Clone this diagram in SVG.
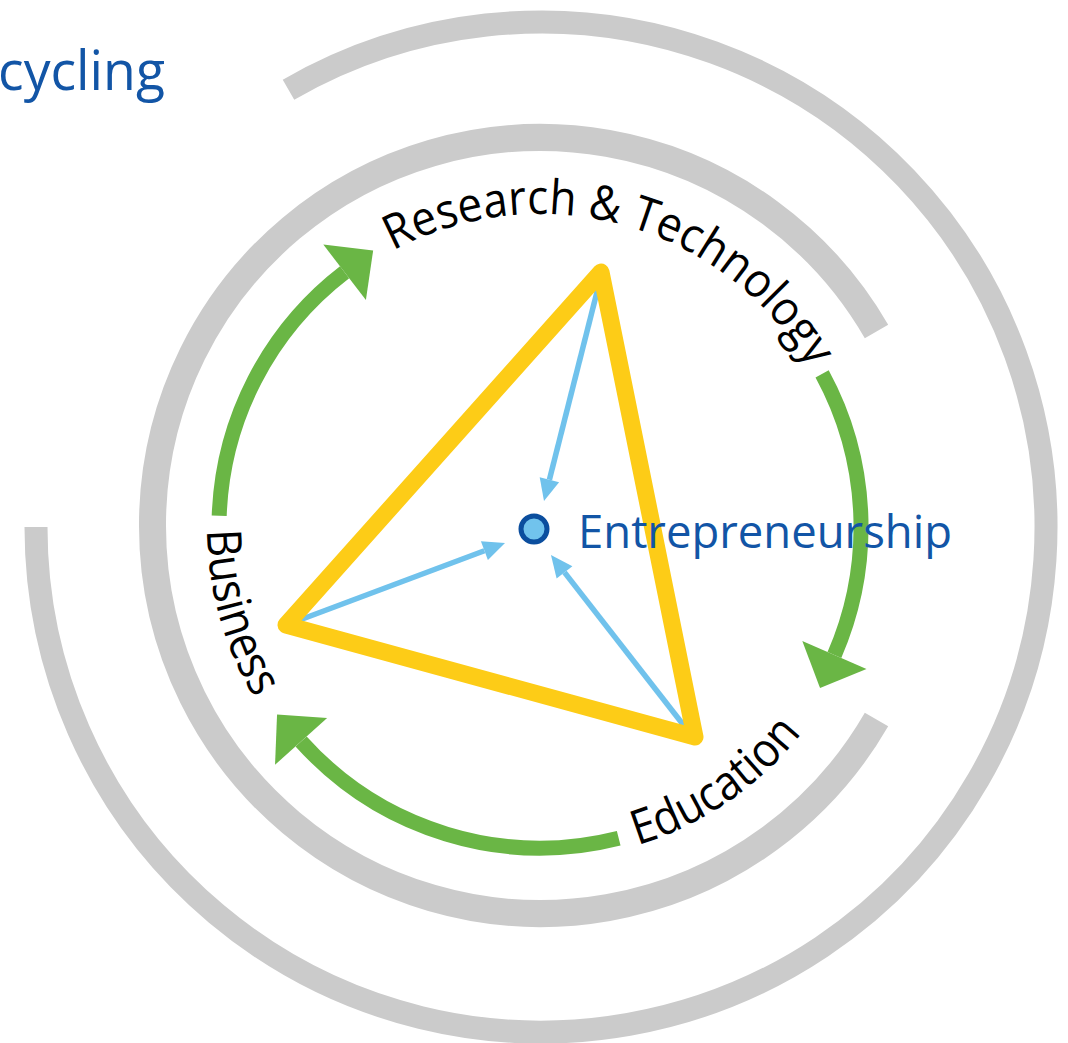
<svg xmlns="http://www.w3.org/2000/svg" width="1068" height="1043" viewBox="0 0 1068 1043">
  <style>
    .gray { fill: none; stroke: #cbcbcb; }
    .green { fill: none; stroke: #6ab645; stroke-width: 15; }
    .blue { fill: none; stroke: #70c2ec; stroke-width: 5.5; }
    .label { font-family: "Open Sans", "Noto Sans", "Liberation Sans", sans-serif; font-size: 48px; fill: #000; }
    .title { font-family: "Open Sans", "Noto Sans", "Liberation Sans", sans-serif; fill: #1255a6; }
  </style>
  <defs>
    <marker id="greenHead" markerUnits="userSpaceOnUse" markerWidth="40" markerHeight="74" viewBox="0 -37 40 74" refX="0" refY="0" orient="auto" overflow="visible">
      <path d="M0,-35 L36,0 L0,35 Z" fill="#6ab645"/>
    </marker>
    <marker id="blueHead" markerUnits="userSpaceOnUse" markerWidth="24" markerHeight="22" viewBox="0 -11 24 22" refX="0" refY="0" orient="auto" overflow="visible">
      <path d="M0,-10 L22,0 L0,10 Z" fill="#70c2ec"/>
    </marker>
    <path id="pTop" d="M393,250.6 A313,313 0 0 1 834.1,419.9"/>
    <path id="pLeft" d="M207,530 A333,333 0 0 0 284.9,741"/>
    <path id="pBottom" d="M637.4,845.4 A333,333 0 0 0 828.4,693.5"/>
  </defs>

  <text class="title" x="-2" y="90" font-size="55" textLength="167" lengthAdjust="spacingAndGlyphs">cycling</text>

  <g id="rings">
    <path class="gray" stroke-width="23" d="M288.5,89.7 A505,505 0 1 1 36,527"/>
    <path class="gray" stroke-width="27" d="M876.5,719.5 A388,388 0 1 1 876.5,331.5"/>
  </g>

  <g id="connectors">
    <path class="green" marker-end="url(#greenHead)" d="M219.2,515.8 A321,321 0 0 1 344.6,272.3"/>
    <path class="green" marker-end="url(#greenHead)" d="M822.1,373.8 A321,321 0 0 1 834.4,655"/>
    <path class="green" marker-end="url(#greenHead)" d="M618.7,838.2 A321,321 0 0 1 301.1,741.4"/>
    <path class="blue" marker-end="url(#blueHead)" d="M598,288 L549.4,479.7"/>
    <path class="blue" marker-end="url(#blueHead)" d="M297,621 L484.4,550.7"/>
    <path class="blue" marker-end="url(#blueHead)" d="M685,727 L564.5,572.4"/>
  </g>

  <g id="triangle">
    <polygon points="601,272 286,625 695,737" fill="none" stroke="#fdcc17" stroke-width="17" stroke-linejoin="round"/>
  </g>

  <g id="node-research">
    <text class="label"><textPath href="#pTop" textLength="478" lengthAdjust="spacingAndGlyphs">Research &amp; Technology</textPath></text>
  </g>
  <g id="node-business">
    <text class="label"><textPath href="#pLeft" textLength="177" lengthAdjust="spacingAndGlyphs">Business</textPath></text>
  </g>
  <g id="node-education">
    <text class="label"><textPath href="#pBottom" textLength="202" lengthAdjust="spacingAndGlyphs">Education</textPath></text>
  </g>

  <g id="node-entrepreneurship">
    <circle cx="534" cy="529" r="13" fill="#71c3ed" stroke="#0b4e9e" stroke-width="5"/>
    <text class="title" x="578" y="548" font-size="46" textLength="374" lengthAdjust="spacingAndGlyphs">Entrepreneurship</text>
  </g>
</svg>
